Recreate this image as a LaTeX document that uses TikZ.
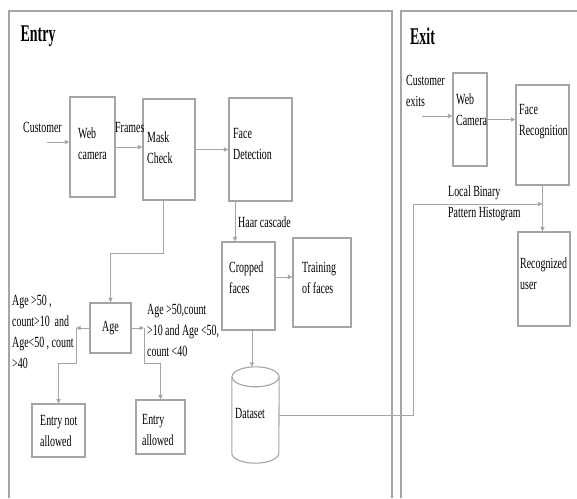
\documentclass[tikz,border=0pt]{standalone}
\usepackage{fontspec}
\setmainfont[FakeStretch=0.64]{Liberation Serif}
\newfontfamily\titlefont[FakeStretch=0.58]{Liberation Serif}
\usetikzlibrary{arrows.meta,calc}
\definecolor{linegray}{RGB}{165,165,165}
\begin{document}
\begin{tikzpicture}[x=1pt,y=-1pt,
  box/.style={draw=linegray, line width=1.1pt, inner sep=0pt, rectangle},
  frame/.style={draw=linegray, line width=1.1pt},
  arr/.style={draw=linegray, line width=1pt, -{Triangle[length=4.5pt,width=4pt]}},
  conn/.style={draw=linegray, line width=1pt},
  txt/.style={font=\fontsize{15.5}{21}\selectfont, inner sep=0pt, align=left, anchor=west, text=black},
  ttl/.style={font=\titlefont\bfseries\fontsize{24}{26}\selectfont, inner sep=0pt, anchor=base west, text=black}]
\useasboundingbox (0,0) rectangle (577,498);
\fill[white] (0,0) rectangle (577,498);

% frames
\draw[frame] (9,498) -- (9,11) -- (392,11) -- (392,498);
\draw[frame] (401,498) -- (401,11) -- (577,11);
\node[ttl] (tEntry) at (20.5,41) {Entry};
\node[ttl] (tExit) at (410,44) {Exit};

% boxes
\node[box, minimum width=45, minimum height=100] (wc) at (92.5,147) {};
\node[box, minimum width=52, minimum height=101] (mc) at (169,149.5) {};
\node[box, minimum width=63, minimum height=103] (fd) at (260.5,149.5) {};
\node[box, minimum width=53, minimum height=88] (cf) at (248.5,286) {};
\node[box, minimum width=58, minimum height=89] (tf) at (322,282.5) {};
\node[box, minimum width=41, minimum height=50, font=\fontsize{15.5}{21}\selectfont] (age) at (110.5,328) {Age};
\node[box, minimum width=53, minimum height=53] (ena) at (58.5,430.5) {};
\node[box, minimum width=49, minimum height=54] (ea) at (160.5,427) {};
\node[box, minimum width=34, minimum height=93] (ewc) at (470,119.5) {};
\node[box, minimum width=53, minimum height=100] (fr) at (542.5,135) {};
\node[box, minimum width=52, minimum height=94] (ru) at (544,279) {};
\node[inner sep=0pt, minimum width=47, minimum height=96] (ds) at (255.5,415) {};
\draw[conn, line width=1.1pt] ([yshift=-10pt]ds.north) ellipse[x radius=23.5pt, y radius=10pt];
\draw[conn, line width=1.1pt] ([yshift=-10pt]ds.north west) -- ([yshift=10pt]ds.south west)
  arc[start angle=180, end angle=360, x radius=23.5pt, y radius=10pt] -- ([yshift=-10pt]ds.north east);

% texts
\node[txt] (tCust) at (23,127) {Customer};
\node[txt] (tFrames) at (115,127) {Frames};
\node[txt] (tWc) at (78,144) {Web\\camera};
\node[txt] (tMc) at (147,147.5) {Mask\\Check};
\node[txt] (tFd) at (233,144) {Face\\Detection};
\node[txt] (tHaar) at (238,222) {Haar cascade};
\node[txt] (tCf) at (229,277.5) {Cropped\\faces};
\node[txt] (tTf) at (302,278) {Training\\of faces};
\node[txt] (tDs) at (235,413) {Dataset};
\node[txt] (tLeft) at (12,332) {Age >50 ,\\count>10~ and\\Age<50 , count\\>40};
\node[txt] (tRight) at (147,330.5) {Age >50,count\\>10 and Age <50,\\count <40};
\node[txt] (tEna) at (40,431) {Entry not\\allowed};
\node[txt] (tEa) at (142,429.5) {Entry\\allowed};
\node[txt] (tCex) at (406,90.5) {Customer\\exits};
\node[txt] (tEwc) at (456,110) {Web\\Camera};
\node[txt] (tFr) at (519,122) {Face\\Recognition};
\node[txt] (tLbp) at (448,203) {Local Binary\\Pattern Histogram};
\node[txt] (tRu) at (520,274) {Recognized\\user};

% connectors
\coordinate (cin) at (47,142);
\draw[arr] (cin) -- (cin -| wc.west);
\draw[arr] (wc.east) -- (wc.east -| mc.west);
\draw[arr] (mc.east) -- (mc.east -| fd.west);
\coordinate (hx) at (235,0);
\draw[arr] (fd.south -| hx) -- (cf.north -| hx);
\coordinate (mx) at (163,253);
\draw[arr] (mc.south -| mx) -- (mx) -| (age.north);
\coordinate (aL) at (76,328);
\coordinate (aR) at (144,328);
\draw[arr] (age.west) -- (aL);
\draw[arr] (aL) -- ++(0,35) -| (ena.north);
\draw[arr] (age.east) -- (aR);
\draw[arr] (aR) -- ++(0,35) -| (ea.north);
\coordinate (tfy) at (0,277);
\draw[arr] (cf.east |- tfy) -- (tf.west |- tfy);
\coordinate (dx) at (252,0);
\draw[arr] (cf.south -| dx) -- (ds.north -| dx);
\coordinate (lb) at (413,204);
\draw[arr] (ds.east) -- (ds.east -| lb) -- (lb) -- (lb -| fr.south);
\coordinate (cex) at (422,116);
\draw[arr] (cex) -- (cex -| ewc.west);
\draw[arr] (ewc.east) -- (ewc.east -| fr.west);
\draw[arr] (fr.south) -- (fr.south |- ru.north);
\end{tikzpicture}
\end{document}
